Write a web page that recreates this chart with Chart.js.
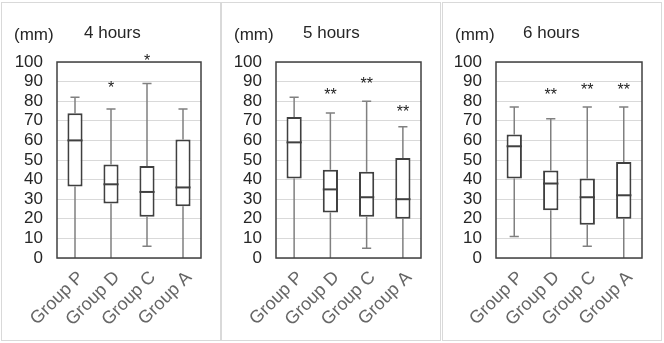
<!DOCTYPE html>
<html>
<head>
<meta charset="utf-8">
<script src="https://cdn.jsdelivr.net/npm/chart.js@4"></script>
<style>
    body { margin: 0; background: #fff; }
    .panel { position: absolute; top: 2px; width: 218px; height: 337px; border: 1px solid #d9d9d9; }
    canvas { display: block; }
</style>
</head>
<body>
<div class="panel" style="left:1px"><canvas id="c4" width="218" height="337"></canvas></div>
<div class="panel" style="left:221px"><canvas id="c5" width="218" height="337"></canvas></div>
<div class="panel" style="left:442px"><canvas id="c6" width="218" height="337"></canvas></div>
<script>
// 分组与刻度
const categories = ['Group P', 'Group D', 'Group C', 'Group A'];
const yMin = 0, yMax = 100, yStep = 10;
const unitLabel = '(mm)';

// 4 hours
const title4 = '4 hours';
const min4 = [0, 0, 6, 0];
const q1_4 = [36.5, 27.8, 21, 26.4];
const med4 = [60, 37.6, 33.7, 36];
const q3_4 = [73.8, 47.7, 46.9, 60.4];
const max4 = [82, 76, 89, 76];
const sig4 = ['', '*', '*', ''];
const sigAt4 = [null, 88.8, 102.5, null];

// 5 hours
const title5 = '5 hours';
const min5 = [0, 0, 5, 0];
const q1_5 = [40.5, 23.2, 21, 20];
const med5 = [59, 35, 31, 30];
const q3_5 = [72, 45, 44, 51];
const max5 = [82, 74, 80, 67];
const sig5 = ['', '**', '**', '**'];
const sigAt5 = [null, 85, 91, 76.5];

// 6 hours
const title6 = '6 hours';
const min6 = [11, 0, 6, 0];
const q1_6 = [40.5, 24.4, 17, 20];
const med6 = [57, 38, 31, 32];
const q3_6 = [63, 44.7, 40.5, 49];
const max6 = [77, 71, 77, 77];
const sig6 = ['', '**', '**', '**'];
const sigAt6 = [null, 85, 88, 88];

const FONT = "'Liberation Sans', Arial, sans-serif";

// 箱线图: 须线、中位数、星号、边框
const boxPlugin = {
    id: 'boxExtras',
    beforeDatasetsDraw(chart) {
        const b = chart.options.plugins.boxExtras;
        const ctx = chart.ctx, y = chart.scales.y;
        const meta = chart.getDatasetMeta(0);
        ctx.save();
        ctx.strokeStyle = '#808080';
        ctx.lineWidth = 1.5;
        meta.data.forEach((bar, i) => {
            const cap = bar.width * 0.3;
            const yLo = y.getPixelForValue(b.min[i]), yQ1 = y.getPixelForValue(b.q1[i]);
            const yQ3 = y.getPixelForValue(b.q3[i]), yHi = y.getPixelForValue(b.max[i]);
            ctx.beginPath();
            ctx.moveTo(bar.x, yQ1); ctx.lineTo(bar.x, yLo);
            ctx.moveTo(bar.x, yQ3); ctx.lineTo(bar.x, yHi);
            ctx.moveTo(bar.x - cap, yHi); ctx.lineTo(bar.x + cap, yHi);
            if (b.min[i] > yMin) { ctx.moveTo(bar.x - cap, yLo); ctx.lineTo(bar.x + cap, yLo); }
            ctx.stroke();
        });
        ctx.restore();
    },
    afterDatasetsDraw(chart) {
        const b = chart.options.plugins.boxExtras;
        const ctx = chart.ctx, y = chart.scales.y;
        const meta = chart.getDatasetMeta(0);
        const a = chart.chartArea;
        ctx.save();
        ctx.strokeStyle = '#404040';
        ctx.lineWidth = 2;
        meta.data.forEach((bar, i) => {
            const ym = y.getPixelForValue(b.med[i]);
            ctx.beginPath();
            ctx.moveTo(bar.x - bar.width / 2, ym);
            ctx.lineTo(bar.x + bar.width / 2, ym);
            ctx.stroke();
        });
        // 图框
        ctx.strokeStyle = '#404040';
        ctx.lineWidth = 1.5;
        ctx.strokeRect(a.left, a.top, a.right - a.left, a.bottom - a.top);
        // 显著性星号
        ctx.fillStyle = '#222';
        ctx.font = '16px ' + FONT;
        ctx.textAlign = 'center';
        ctx.textBaseline = 'alphabetic';
        meta.data.forEach((bar, i) => {
            if (b.sig[i]) ctx.fillText(b.sig[i], bar.x, y.getPixelForValue(b.sigAt[i]) + 9);
        });
        // 单位和标题
        ctx.fillStyle = '#262626';
        ctx.font = '17px ' + FONT;
        ctx.textAlign = 'left';
        ctx.fillText(unitLabel, 12, 37);
        ctx.fillText(b.title, a.left + 27, 35);
        ctx.restore();
    }
};

function createChart(id, title, mins, q1s, meds, q3s, maxs, sigs, sigAt, axisW) {
    return new Chart(document.getElementById(id), {
        type: 'bar',
        data: {
            labels: categories,
            datasets: [{
                data: q1s.map((v, i) => [v, q3s[i]]),
                backgroundColor: '#ffffff',
                borderColor: '#404040',
                borderWidth: 2,
                borderSkipped: false,
                barPercentage: 0.42,
                categoryPercentage: 1
            }]
        },
        options: {
            responsive: false,
            animation: false,
            layout: { padding: { top: 59, right: 19, left: 0, bottom: 0 } },
            plugins: {
                legend: { display: false },
                tooltip: { enabled: false },
                boxExtras: { title: title, min: mins, q1: q1s, med: meds, q3: q3s, max: maxs, sig: sigs, sigAt: sigAt }
            },
            scales: {
                x: {
                    grid: { display: false, drawTicks: false },
                    border: { display: false },
                    ticks: { color: '#666', font: { family: FONT, size: 18 }, minRotation: 45, maxRotation: 45, padding: 9, labelOffset: 6 },
                    afterFit(scale) { scale.height = 82; }
                },
                y: {
                    min: yMin, max: yMax,
                    grid: { color: '#d9d9d9', lineWidth: 1, drawTicks: false },
                    border: { display: false },
                    ticks: { stepSize: yStep, autoSkip: false, color: '#262626', font: { family: FONT, size: 17 }, padding: 14 },
                    afterFit(scale) { scale.width = axisW; }
                }
            }
        },
        plugins: [boxPlugin]
    });
}

createChart('c4', title4, min4, q1_4, med4, q3_4, max4, sig4, sigAt4, 55);
createChart('c5', title5, min5, q1_5, med5, q3_5, max5, sig5, sigAt5, 54);
createChart('c6', title6, min6, q1_6, med6, q3_6, max6, sig6, sigAt6, 53);
</script>
</body>
</html>
